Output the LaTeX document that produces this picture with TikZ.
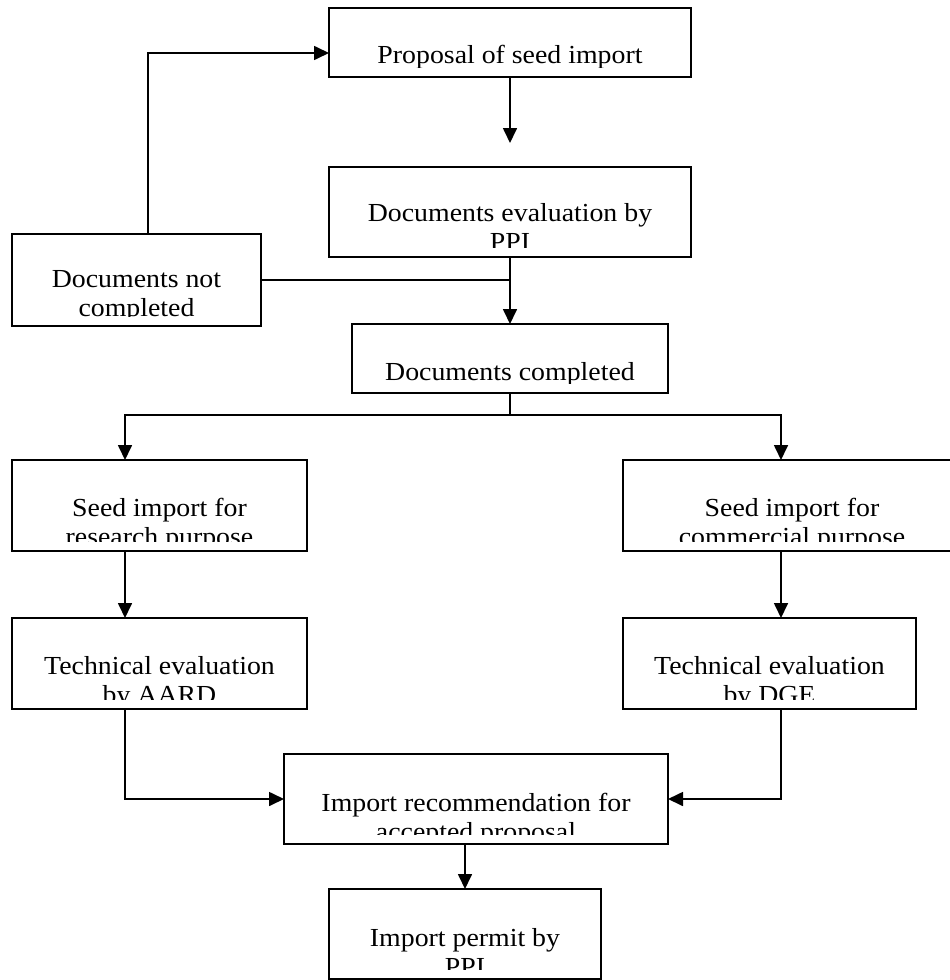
\documentclass[tikz,border=0pt]{standalone}
\usepackage{fontspec}
\setmainfont{Liberation Serif}[FakeStretch=1.07]
\usetikzlibrary{arrows.meta}

\tikzset{
  stepbox/.style={draw, line width=1.8pt, inner sep=0pt, outer sep=0pt, anchor=north west},
  boxtext/.style={font=\fontsize{26}{29}\selectfont, inner sep=0pt, anchor=base},
  flow/.style={line width=1.7pt, -{Triangle[length=15pt,width=14pt]}},
  link/.style={line width=1.7pt},
}

% #1 name, #2/#3 top-left corner, #4/#5 bottom-right corner,
% #6 baseline of the first line, #7 first line, #8 second line
\newcommand\flowbox[8]{%
  \node[stepbox, minimum width={#4-#2}, minimum height={#5-#3}] (#1) at (#2,#3) {};
  \begin{scope}
    \clip (#2,#3) rectangle (#4,#5-10);
    \node[boxtext] (#1-a) at ({(#2+#4)/2},#6) {#7};
    \node[boxtext] (#1-b) at ({(#2+#4)/2},#6+29) {#8};
  \end{scope}}

\begin{document}
\begin{tikzpicture}[x=1pt, y=-1pt]
  \useasboundingbox (0,0) rectangle (950,980);
  \fill[white] (0,0) rectangle (950,980);

  \flowbox{prop}{329}{8}{691}{77}{63}{Proposal of seed import}{}
  \flowbox{eval}{329}{167}{691}{257}{221}{Documents evaluation by}{PPI}
  \flowbox{notc}{12}{234}{261}{326}{287}{Documents not}{completed}
  \flowbox{comp}{352}{324}{668}{393}{380}{Documents completed}{}
  \flowbox{res}{12}{460}{307}{551}{516}{Seed import for}{research purpose}
  \flowbox{com}{623}{460}{961}{551}{516}{Seed import for}{commercial purpose}
  \flowbox{techL}{12}{618}{307}{709}{674}{Technical evaluation}{by AARD}
  \flowbox{techR}{623}{618}{916}{709}{674}{Technical evaluation}{by DGE}
  \flowbox{rec}{284}{754}{668}{844}{811}{Import recommendation for}{accepted proposal}
  \flowbox{permit}{329}{889}{601}{979}{946}{Import permit by}{PPI}

  % routing points
  \coordinate (tip1) at (510,143);
  \coordinate (loop) at (148,53);
  \coordinate (L) at (125,415);
  \coordinate (R) at (781,415);

  \draw[flow] (prop.south) -- (tip1);
  \draw[flow] (eval.south) -- (comp.north);
  \draw[link] (notc.east) -- (notc.east -| eval.south);
  \draw[flow] (loop |- notc.north) -- (loop) -- (loop -| prop.west);

  \draw[link] (comp.south) -- (comp.south |- L);
  \draw[flow] (comp.south |- L) -- (L) -- (L |- res.north);
  \draw[flow] (comp.south |- R) -- (R) -- (R |- com.north);

  \draw[flow] (L |- res.south) -- (L |- techL.north);
  \draw[flow] (R |- com.south) -- (R |- techR.north);

  \draw[flow] (L |- techL.south) |- (rec.west);
  \draw[flow] (R |- techR.south) |- (rec.east);

  \draw[flow] (rec.south -| permit.north) -- (permit.north);
\end{tikzpicture}
\end{document}
